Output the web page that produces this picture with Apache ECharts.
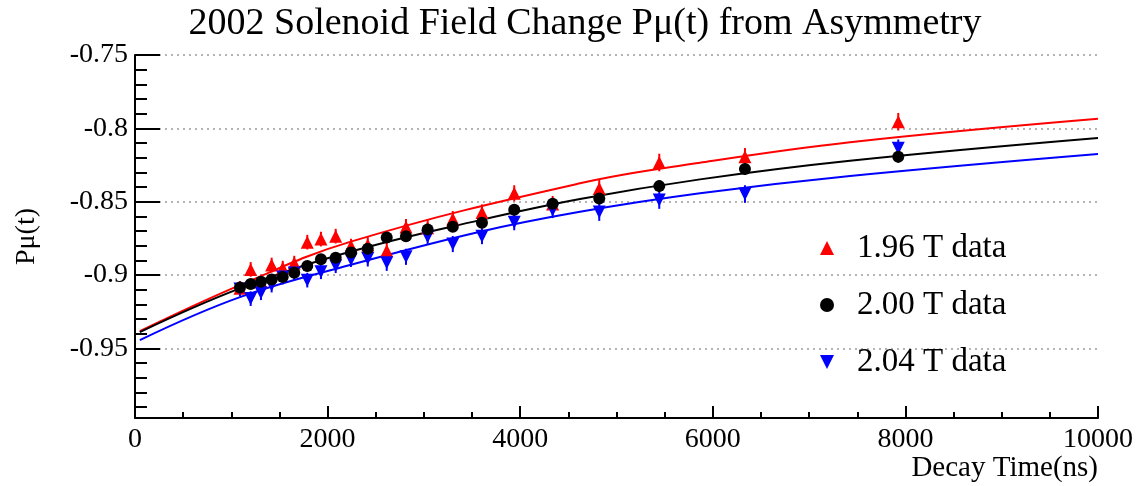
<!DOCTYPE html>
<html>
<head>
<meta charset="utf-8">
<script src="https://cdn.jsdelivr.net/npm/echarts@6/dist/echarts.min.js"></script>
<style>
html,body{margin:0;padding:0;background:#fff;}
#chart{width:1136px;height:486px;}
</style>
</head>
<body>
<div id="chart"></div>
<script>
// Decay times (ns) of the measured points
const times = [1090,1201,1308,1419,1534,1654,1789,1931,2084,2243,2417,2614,2814,3039,3300,3603,3938,4337,4821,5444,6334,7926];
// Pmu(t) values
const red196 = [-0.9091,-0.8962,-0.9046,-0.8932,-0.8953,-0.8919,-0.8776,-0.8755,-0.8735,-0.8803,-0.8796,-0.8834,-0.8673,-0.8677,-0.8619,-0.8574,-0.8443,-0.8516,-0.8411,-0.8233,-0.8194,-0.7955];
const black200 = [-0.9086,-0.9062,-0.9046,-0.9030,-0.9014,-0.8985,-0.8939,-0.8893,-0.8883,-0.8846,-0.8821,-0.8744,-0.8735,-0.8690,-0.8671,-0.8644,-0.8555,-0.8514,-0.8478,-0.8394,-0.8278,-0.8194];
const blue204 = [-0.9096,-0.9161,-0.9121,-0.9069,-0.9014,-0.8987,-0.9035,-0.8978,-0.8937,-0.8895,-0.8887,-0.8917,-0.8876,-0.8739,-0.8789,-0.8735,-0.8640,-0.8557,-0.8571,-0.8489,-0.8448,-0.8136];
// error bar half-lengths
const errRed = [0.005,0.005,0.005,0.005,0.005,0.005,0.005,0.005,0.005,0.005,0.0055,0.0055,0.0055,0.0055,0.0055,0.0055,0.0055,0.0055,0.006,0.006,0.006,0.006];
const errBlack = [0.0035,0.0035,0.0035,0.0035,0.0035,0.0035,0.0035,0.0035,0.0035,0.0035,0.0035,0.0035,0.0035,0.0035,0.0035,0.0035,0.0035,0.0035,0.004,0.004,0.004,0.004];
const errBlue = [0.005,0.005,0.005,0.005,0.005,0.005,0.005,0.005,0.005,0.005,0.0055,0.0055,0.0055,0.0055,0.0055,0.0055,0.0055,0.0055,0.006,0.006,0.006,0.006];
// fit curves
const fitRedT = [50,1090,2233,4621,5867,7425,10000];
const fitRedV = [-0.9383,-0.9069,-0.8774,-0.8375,-0.8235,-0.8095,-0.7935];
const fitBlackT = [50,1090,2233,3583,4621,5867,7425,10000];
const fitBlackV = [-0.9389,-0.9091,-0.8842,-0.8626,-0.8482,-0.8348,-0.8221,-0.8066];
const fitBlueT = [50,1090,2233,3583,4621,5867,7425,10000];
const fitBlueV = [-0.9444,-0.9151,-0.8932,-0.8705,-0.8569,-0.8443,-0.8325,-0.8175];
// axis ticks / labels
const xTicks = ['0','2000','4000','6000','8000','10000'];
const legendNames = ['1.96 T data','2.00 T data','2.04 T data'];

const SERIF = '"Liberation Serif","DejaVu Serif",serif';
const pairs = (a, b) => a.map((v, i) => [v, b[i]]);
const triples = (a, b, c) => a.map((v, i) => [v, b[i], c[i]]);

function errBar(color) {
  return function (params, api) {
    const x = api.value(0), y = api.value(1), e = api.value(2);
    const p1 = api.coord([x, y - e]);
    const p2 = api.coord([x, y + e]);
    return {
      type: 'line',
      shape: {x1: p1[0], y1: p1[1], x2: p2[0], y2: p2[1]},
      style: {stroke: color, lineWidth: 2}
    };
  };
}

const chart = echarts.init(document.getElementById('chart'), null, {renderer: 'canvas'});
chart.setOption({
  animation: false,
  backgroundColor: '#ffffff',
  title: {
    text: '2002 Solenoid Field Change P\u03bc(t) from Asymmetry',
    left: 580, top: 0, textAlign: 'center',
    textStyle: {fontFamily: SERIF, fontSize: 38, fontWeight: 'normal', color: '#000'}
  },
  legend: {
    data: [
      {name: legendNames[0], icon: 'triangle'},
      {name: legendNames[1], icon: 'circle'},
      {name: legendNames[2], icon: 'path://M0,0 L10,0 L5,10 Z'}
    ],
    orient: 'vertical',
    left: 815, top: 226,
    itemWidth: 14, itemHeight: 14,
    itemGap: 23,
    itemStyle: {opacity: 1},
    textStyle: {fontFamily: SERIF, fontSize: 33, color: '#000', padding: [0, 0, 0, 18], lineHeight: 34}
  },
  grid: {left: 135, right: 38, top: 55, bottom: 68, containLabel: false},
  xAxis: {
    type: 'value', min: 0, max: 10000, interval: 2000,
    name: 'Decay Time(ns)', nameLocation: 'end', nameGap: 0,
    nameTextStyle: {fontFamily: SERIF, fontSize: 29, color: '#000', align: 'right', verticalAlign: 'top', padding: [36, 0, 0, 0]},
    axisLine: {show: true, onZero: false, lineStyle: {color: '#000', width: 2}},
    axisTick: {show: true, inside: true, length: 12, lineStyle: {color: '#000', width: 2}},
    minorTick: {show: true, splitNumber: 4, length: 6, lineStyle: {color: '#000', width: 2}},
    axisLabel: {fontFamily: SERIF, fontSize: 28, color: '#000', margin: 8,
      formatter: function (v) { const i = Math.round(v / 2000); return xTicks[i] !== undefined ? xTicks[i] : ''; }},
    splitLine: {show: false}
  },
  yAxis: {
    type: 'value', min: -0.9975, max: -0.75, splitNumber: 5,
    name: 'P\u03bc(t)', nameLocation: 'middle', nameGap: 94, nameRotate: 90,
    nameTextStyle: {fontFamily: SERIF, fontSize: 28, color: '#000'},
    axisLine: {show: true, onZero: false, lineStyle: {color: '#000', width: 2}},
    axisTick: {show: true, inside: true, length: 25, lineStyle: {color: '#000', width: 2}},
    minorTick: {show: true, splitNumber: 5, length: 12, lineStyle: {color: '#000', width: 2}},
    axisLabel: {fontFamily: SERIF, fontSize: 28, color: '#000', margin: 7, showMinLabel: false},
    splitLine: {show: true, lineStyle: {color: '#b4b4b4', width: 2, type: [2, 4]}}
  },
  series: [
    {name: 'fitRed', type: 'line', data: pairs(fitRedT, fitRedV), smooth: 0.4, showSymbol: false, symbol: 'none',
      lineStyle: {color: '#ff0000', width: 2}, z: 2, silent: true},
    {name: 'fitBlack', type: 'line', data: pairs(fitBlackT, fitBlackV), smooth: 0.4, showSymbol: false, symbol: 'none',
      lineStyle: {color: '#000000', width: 2}, z: 2, silent: true},
    {name: 'fitBlue', type: 'line', data: pairs(fitBlueT, fitBlueV), smooth: 0.4, showSymbol: false, symbol: 'none',
      lineStyle: {color: '#0000ff', width: 2}, z: 2, silent: true},
    {type: 'custom', data: triples(times, red196, errRed), renderItem: errBar('#ff0000'), z: 3, silent: true},
    {type: 'custom', data: triples(times, black200, errBlack), renderItem: errBar('#000000'), z: 3, silent: true},
    {type: 'custom', data: triples(times, blue204, errBlue), renderItem: errBar('#0000ff'), z: 3, silent: true},
    {name: legendNames[0], type: 'scatter', data: pairs(times, red196), symbol: 'triangle', symbolSize: 13,
      itemStyle: {color: '#ff0000', opacity: 1}, z: 4},
    {name: legendNames[1], type: 'scatter', data: pairs(times, black200), symbol: 'circle', symbolSize: 12,
      itemStyle: {color: '#000000', opacity: 1}, z: 5},
    {name: legendNames[2], type: 'scatter', data: pairs(times, blue204), symbol: 'triangle', symbolRotate: 180, symbolSize: 13,
      itemStyle: {color: '#0000ff', opacity: 1}, z: 4}
  ]
});
</script>
</body>
</html>
